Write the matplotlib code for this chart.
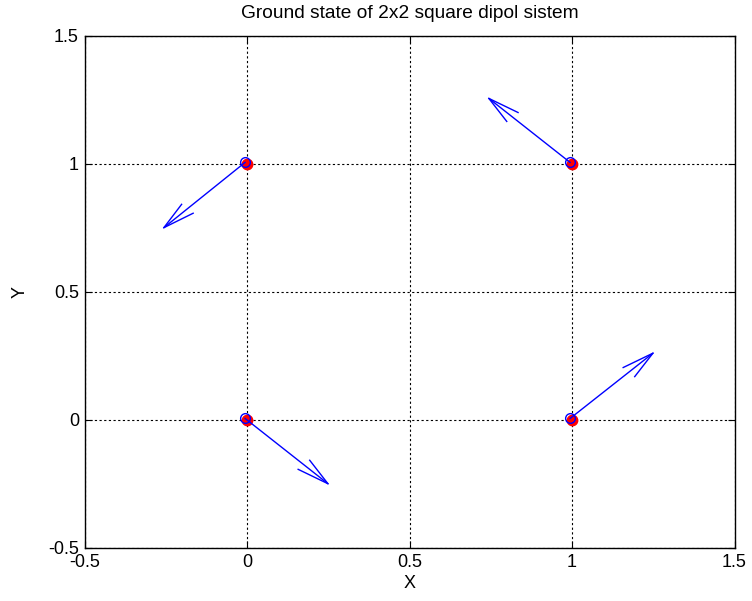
import matplotlib
matplotlib.use("Agg")
import matplotlib.pyplot as plt
import numpy as np

plt.rcParams['font.family'] = ['Liberation Sans', 'DejaVu Sans']

# dipole positions (lattice sites) and their moment vectors as drawn
site_x = np.array([0.0, 1.0, 0.0, 1.0])
site_y = np.array([0.0, 0.0, 1.0, 1.0])
vec_u = np.array([0.255, 0.255, -0.25, -0.25])
vec_v = np.array([-0.255, 0.255, -0.255, 0.25])
# arrow origins (blue circles) sit a hair off the sites
orig_dx = -0.006
orig_dy = 0.006

x_ticks = [-0.5, 0, 0.5, 1, 1.5]
y_ticks = [-0.5, 0, 0.5, 1, 1.5]
x_labels = ['-0.5', '0', '0.5', '1', '1.5']
y_labels = ['-0.5', '0', '0.5', '1', '1.5']

FS = 13

fig = plt.figure(figsize=(7.52, 6.01), dpi=100)
ax = fig.add_axes([0.1124, 0.0882, 0.8644, 0.852])

ax.plot(site_x, site_y, 'o', color='red', markerfacecolor='red',
        markeredgecolor='red', markersize=7.5, zorder=3)

ox = site_x + orig_dx
oy = site_y + orig_dy
ax.plot(ox, oy, 'o', markerfacecolor='none', markeredgecolor='blue',
        markersize=7, markeredgewidth=1.0, zorder=4)

# matlab style quiver: shaft plus two open head lines
alpha = 0.29
beta = 0.24
for x, y, u, v in zip(ox, oy, vec_u, vec_v):
    ax.plot([x, x + u], [y, y + v], color='blue', lw=1.0, zorder=4)
    hu = [x + u - alpha * (u + beta * v), x + u, x + u - alpha * (u - beta * v)]
    hv = [y + v - alpha * (v - beta * u), y + v, y + v - alpha * (v + beta * u)]
    ax.plot(hu, hv, color='blue', lw=1.0, zorder=4)

ax.set_xlim(-0.5, 1.5)
ax.set_ylim(-0.5, 1.5)
ax.set_xticks(x_ticks)
ax.set_xticklabels(x_labels)
ax.set_yticks(y_ticks)
ax.set_yticklabels(y_labels)
ax.grid(True, color='black', linestyle=(0, (2, 2.2)), linewidth=0.8)
ax.tick_params(direction='in', length=5, labelsize=FS, pad=4,
               top=True, right=True)
for s in ax.spines.values():
    s.set_linewidth(1.0)

ax.set_xlabel('X', fontsize=FS, labelpad=3)
ax.set_ylabel('Y', fontsize=FS, labelpad=14)
ax.set_title('Ground state of 2x2 square dipol sistem', fontsize=13.8, pad=13)

fig.savefig('out.png', dpi=100)
